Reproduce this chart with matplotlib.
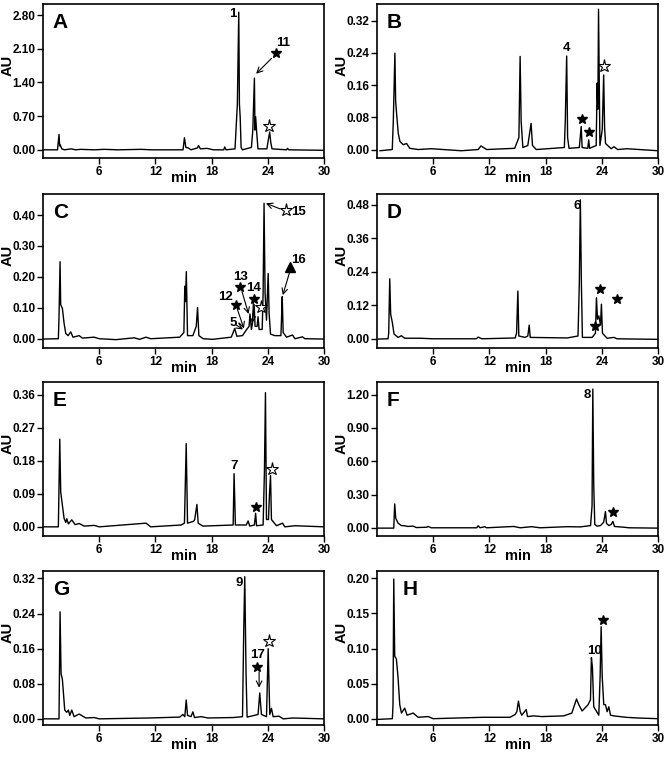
import matplotlib

matplotlib.use("Agg")
import matplotlib.pyplot as plt

plt.rcParams["font.family"] = ["Liberation Sans", "DejaVu Sans"]

# ---- chromatogram traces (min, AU) ----
a_time = [0.1, 1.55, 1.71, 1.78, 1.85, 2.0, 2.3, 3.0, 3.5, 4.0, 5.5, 6.5, 8.0, 10.5, 11.5, 14.95,
          15.1, 15.25, 15.5, 15.8, 16.5, 16.6, 16.8, 17.5, 18.2, 19.3, 19.4, 19.55, 20.5, 20.75,
          20.9, 20.97, 21.05, 21.15, 21.3, 22.25, 22.4, 22.57, 22.63, 22.7, 22.8, 22.95, 23.9,
          24.05, 24.2, 24.32, 24.45, 26.0, 26.1, 26.25, 30.0]
a_au = [0.0, 0.0, 0.32, 0.08, 0.10, 0.02, 0.0, 0.02, 0.0, 0.01, 0.0, 0.01, 0.0, 0.01, 0.0, 0.0,
        0.25, 0.05, 0.04, 0.0, 0.04, 0.09, 0.02, 0.03, 0.0, 0.0, 0.06, 0.0, 0.02, 0.95,
        2.86, 0.95, 0.69, 0.05, 0.0, 0.05, 0.41, 1.49, 0.41, 0.69, 0.40, 0.02, 0.02,
        0.20, 0.37, 0.15, 0.02, 0.0, 0.03, 0.0, -0.01]

b_time = [0.32, 1.63, 1.74, 1.91, 1.99, 2.09, 2.27, 2.45, 2.8, 3.16, 3.5, 4.4, 5.8, 9.0, 10.8, 11.1,
          11.7, 14.7, 15.15, 15.28, 15.39, 15.57, 16.1, 16.45, 16.6, 17.0, 20.0, 20.1, 20.25, 20.35,
          20.5, 21.6, 21.8, 21.9, 22.5, 22.6, 22.7, 23.4, 23.5, 23.58, 23.65, 23.8, 24.05, 24.2,
          24.3, 24.4, 25.0, 25.3, 25.7, 26.7, 30.0]
b_au = [-0.003, 0.0, 0.07, 0.239, 0.12, 0.09, 0.04, 0.02, 0.012, 0.015, 0.003, 0.0, 0.002, -0.003,
        0.0, 0.009, 0.0, 0.003, 0.03, 0.231, 0.07, 0.005, 0.01, 0.065, 0.01, 0.0, 0.005, 0.07,
        0.232, 0.03, 0.003, 0.005, 0.057, 0.005, 0.003, 0.024, 0.003, 0.01, 0.165, 0.10, 0.348,
        0.01, 0.05, 0.185, 0.053, 0.015, 0.002, 0.007, 0.0, 0.002, -0.003]

c_time = [0.1, 1.64, 1.71, 1.82, 1.89, 2.07, 2.25, 2.43, 2.68, 2.96, 3.2, 3.86, 4.2, 5.46, 6.0, 7.8,
          9.75, 10.3, 11.0, 11.5, 14.6, 15.04, 15.14, 15.21, 15.3, 15.43, 16.0, 16.36, 16.5, 16.64,
          17.1, 18.1, 20.1, 20.3, 20.46, 20.7, 21.3, 21.7, 22.0, 22.1, 22.25, 22.36, 22.54, 22.64,
          22.86, 22.96, 23.07, 23.4, 23.5, 23.6, 23.71, 23.86, 24.04, 24.14, 24.29, 24.75, 25.4,
          25.46, 25.54, 25.64, 26.0, 26.64, 26.9, 27.7, 27.96, 30.0]
c_au = [-0.001, 0.0, 0.071, 0.249, 0.11, 0.098, 0.05, 0.017, 0.01, 0.022, 0.005, 0.01, 0.002, 0.005,
        0.0, -0.003, 0.003, -0.002, 0.005, 0.0, 0.005, 0.02, 0.17, 0.12, 0.217, 0.01, 0.01, 0.04,
        0.101, 0.01, 0.0, -0.002, 0.005, 0.02, 0.033, 0.008, 0.01, 0.028, 0.04, 0.08, 0.03, 0.05,
        0.111, 0.04, 0.04, 0.071, 0.03, 0.03, 0.147, 0.438, 0.147, 0.06, 0.211, 0.082, 0.015, 0.01,
        0.01, 0.06, 0.136, 0.02, 0.005, 0.012, 0.0, 0.006, 0.0, -0.001]

d_time = [0.1, 1.18, 1.25, 1.36, 1.46, 1.64, 1.82, 2.25, 2.6, 2.96, 4.6, 6.0, 10.6, 10.8, 11.2, 14.75,
          14.9, 15.04, 15.14, 15.8, 16.1, 16.25, 16.36, 20.3, 21.46, 21.6, 21.71, 21.82, 21.93, 22.96,
          23.14, 23.32, 23.43, 23.54, 23.68, 23.86, 23.96, 24.07, 24.4, 24.57, 25.3, 25.6, 30.0]
d_au = [-0.001, 0.0, 0.02, 0.215, 0.088, 0.058, 0.017, 0.005, 0.011, 0.002, 0.002, 0.0, 0.0, 0.006,
        0.0, 0.003, 0.02, 0.171, 0.01, 0.005, 0.01, 0.049, 0.005, 0.003, 0.01, 0.2, 0.498, 0.2, 0.005,
        0.005, 0.012, 0.02, 0.147, 0.07, 0.082, 0.05, 0.124, 0.02, 0.008, 0.002, 0.005, 0.0, -0.002]

e_time = [0.1, 1.64, 1.79, 1.89, 2.07, 2.25, 2.43, 2.54, 2.71, 3.07, 3.43, 3.86, 4.4, 5.46, 6.0, 11.0,
          11.5, 14.75, 15.1, 15.29, 15.43, 16.07, 16.2, 16.43, 16.57, 17.07, 20.3, 20.4, 20.54, 21.7,
          21.9, 22.07, 22.57, 22.7, 22.8, 23.5, 23.64, 23.75, 23.86, 24.07, 24.18, 24.29, 24.39, 24.64,
          24.93, 25.57, 25.82, 26.9, 30.0]
e_au = [0.0, 0.0, 0.239, 0.095, 0.059, 0.023, 0.012, 0.022, 0.008, 0.019, 0.006, 0.009, 0.002, 0.004,
        0.0, 0.01, 0.0, 0.005, 0.01, 0.227, 0.01, 0.015, 0.02, 0.061, 0.01, 0.002, 0.005, 0.145, 0.005,
        0.005, 0.016, 0.002, 0.005, 0.037, 0.003, 0.005, 0.15, 0.366, 0.02, 0.02, 0.09, 0.14, 0.02,
        0.012, 0.003, 0.01, 0.0, 0.003, 0.0]

f_time = [0.1, 1.79, 1.89, 2.0, 2.25, 2.6, 2.96, 3.3, 3.86, 4.2, 5.3, 5.46, 5.8, 10.64, 10.8, 11.0,
          11.5, 11.7, 14.6, 15.3, 16.5, 17.4, 20.3, 21.7, 22.8, 22.96, 23.04, 23.14, 23.25, 23.5, 23.86,
          24.2, 24.39, 24.5, 24.75, 25.0, 25.18, 25.36, 26.36, 26.9, 30.0]
f_au = [-0.003, -0.003, 0.215, 0.087, 0.042, 0.02, 0.018, 0.012, 0.015, 0.002, 0.005, 0.012, 0.0,
        0.0, 0.018, 0.0, 0.01, 0.0, 0.012, 0.0, 0.01, 0.0, 0.01, 0.008, 0.02, 0.2, 1.25, 0.385, 0.03,
        0.015, 0.02, 0.05, 0.146, 0.04, 0.02, 0.03, 0.057, 0.012, 0.005, 0.0, -0.003]

g_time = [0.1, 1.71, 1.82, 1.93, 2.07, 2.32, 2.54, 2.71, 2.86, 3.07, 3.32, 3.86, 4.57, 5.46, 6.0, 11.36,
          14.6, 14.93, 15.14, 15.29, 15.43, 15.8, 16.0, 16.18, 16.9, 17.6, 20.3, 21.3, 21.43, 21.54,
          21.68, 21.79, 22.96, 23.14, 23.32, 23.86, 24.04, 24.21, 24.39, 24.57, 25.2, 25.64, 26.7, 30.0]
g_au = [0.0, 0.0, 0.244, 0.103, 0.09, 0.02, 0.015, 0.02, 0.008, 0.02, 0.005, 0.011, 0.002, 0.003, 0.0,
        0.002, 0.004, 0.01, 0.005, 0.043, 0.008, 0.005, 0.016, 0.003, 0.005, 0.002, 0.003, 0.005, 0.2,
        0.324, 0.1, 0.004, 0.01, 0.059, 0.01, 0.005, 0.16, 0.01, 0.024, 0.005, 0.006, 0.0, 0.002, 0.0]

h_time = [0.1, 1.64, 1.71, 1.79, 1.89, 2.07, 2.25, 2.43, 2.61, 2.96, 3.21, 3.86, 4.39, 5.46, 6.0, 11.36,
          14.2, 14.75, 14.93, 15.1, 15.29, 15.46, 15.93, 16.07, 16.7, 17.6, 19.93, 20.8, 21.3, 21.54,
          21.9, 22.54, 22.79, 22.89, 23.0, 23.14, 23.68, 23.82, 23.93, 24.04, 24.21, 24.39, 24.57,
          24.75, 24.93, 25.29, 26.54, 27.79, 30.0]
h_au = [-0.001, 0.0, 0.02, 0.199, 0.089, 0.085, 0.058, 0.02, 0.008, 0.015, 0.005, 0.008, 0.002, 0.003,
        0.0, 0.002, 0.002, 0.006, 0.01, 0.025, 0.01, 0.005, 0.013, 0.003, 0.004, 0.003, 0.004, 0.008,
        0.028, 0.02, 0.011, 0.02, 0.027, 0.087, 0.073, 0.017, 0.005, 0.06, 0.131, 0.061, 0.02, 0.02,
        0.01, 0.017, 0.005, 0.004, 0.002, 0.001, 0.0]

# ---- axis settings ----
panel_letters = ["A", "B", "C", "D", "E", "F", "G", "H"]
letter_x = [0.035, 0.035, 0.035, 0.035, 0.035, 0.035, 0.035, 0.09]
yticks_list = [
    [0.0, 0.70, 1.40, 2.10, 2.80],
    [0.0, 0.08, 0.16, 0.24, 0.32],
    [0.0, 0.10, 0.20, 0.30, 0.40],
    [0.0, 0.12, 0.24, 0.36, 0.48],
    [0.0, 0.09, 0.18, 0.27, 0.36],
    [0.0, 0.30, 0.60, 0.90, 1.20],
    [0.0, 0.08, 0.16, 0.24, 0.32],
    [0.0, 0.05, 0.10, 0.15, 0.20],
]
ylims = [(-0.17, 3.03), (-0.021, 0.361), (-0.030, 0.468), (-0.033, 0.519),
         (-0.025, 0.395), (-0.074, 1.314), (-0.014, 0.337), (-0.009, 0.2105)]
xticks = [6, 12, 18, 24, 30]

# ---- peak annotations ----
labels = [
    [("1", 20.29, 2.83), ("11", 25.64, 2.23)],
    [("4", 20.25, 0.253)],
    [("15", 27.25, 0.41), ("16", 27.25, 0.254), ("13", 21.1, 0.198), ("14", 22.45, 0.163),
     ("12", 19.5, 0.136), ("5", 20.29, 0.05)],
    [("6", 21.36, 0.476)],
    [("7", 20.4, 0.165)],
    [("8", 22.5, 1.20)],
    [("9", 20.9, 0.309), ("17", 22.96, 0.145)],
    [("10", 23.2, 0.097)],
]
filled_stars = [
    [(24.86, 2.01)],
    [(21.85, 0.076), (22.6, 0.043)],
    [(21.07, 0.168), (22.5, 0.129), (20.57, 0.109)],
    [(23.86, 0.177), (25.57, 0.141), (23.3, 0.046)],
    [(22.7, 0.055)],
    [(25.2, 0.146)],
    [(22.9, 0.119)],
    [(24.1, 0.141)],
]
open_stars = [
    [(24.14, 0.49)],
    [(24.25, 0.206)],
    [(25.9, 0.416), (23.25, 0.104)],
    [],
    [(24.4, 0.158)],
    [],
    [(24.14, 0.178)],
    [],
]
triangles = [[], [], [(26.4, 0.233)], [], [], [], [], []]
arrows = [
    [(24.4, 1.90, 22.75, 1.58)],
    [],
    [(25.3, 0.42, 23.8, 0.438), (26.3, 0.212, 25.6, 0.141), (21.25, 0.152, 21.95, 0.08),
     (20.75, 0.095, 21.45, 0.033), (22.45, 0.115, 22.35, 0.05), (20.6, 0.045, 21.35, 0.03)],
    [],
    [],
    [],
    [(23.07, 0.107, 23.07, 0.071)],
    [],
]

traces = [(a_time, a_au), (b_time, b_au), (c_time, c_au), (d_time, d_au),
          (e_time, e_au), (f_time, f_au), (g_time, g_au), (h_time, h_au)]

fig = plt.figure(figsize=(6.66, 7.60), dpi=100)
W, H = 666, 760
col_left = [43, 377]
row_top = [4, 194, 382, 571]
ax_w, ax_h = 281, 154

for i, (t, au) in enumerate(traces):
    row, col = divmod(i, 2)
    x0 = col_left[col]
    y0 = row_top[row]
    ax = fig.add_axes([x0 / W, (H - y0 - ax_h) / H, ax_w / W, ax_h / H])
    ax.plot(t, au, color="black", lw=1.0)

    ax.set_xlim(0, 30)
    ax.set_ylim(*ylims[i])
    ax.set_xticks(xticks)
    ax.set_yticks(yticks_list[i])
    ax.set_yticklabels([f"{v:.2f}" for v in yticks_list[i]])
    ax.tick_params(direction="out", length=4, width=1, labelsize=8.5, pad=1.5)
    for lab in ax.get_xticklabels() + ax.get_yticklabels():
        lab.set_fontweight("bold")
    for sp in ax.spines.values():
        sp.set_linewidth(1.2)

    ax.set_xlabel("min", fontsize=10.5, fontweight="bold")
    ax.xaxis.set_label_coords(0.5, -0.085)
    ax.set_ylabel("AU", fontsize=10.5, fontweight="bold")
    ax.yaxis.set_label_coords(-0.1, 0.6)

    ax.text(letter_x[i], 0.94, panel_letters[i], transform=ax.transAxes, fontsize=15,
            fontweight="bold", ha="left", va="top")

    for s, x, y in labels[i]:
        ax.text(x, y, s, fontsize=9.5, fontweight="bold", ha="center", va="center")
    for x, y in filled_stars[i]:
        ax.plot(x, y, marker="*", ms=7.5, color="black", ls="none")
    for x, y in open_stars[i]:
        ax.plot(x, y, marker="*", ms=9.5, mfc="white", mec="black", mew=0.8, ls="none")
    for x, y in triangles[i]:
        ax.plot(x, y, marker="^", ms=7, color="black", ls="none")
    for x1, y1, x2, y2 in arrows[i]:
        ax.annotate("", xy=(x2, y2), xytext=(x1, y1),
                    arrowprops=dict(arrowstyle="->", lw=0.8, color="black",
                                    shrinkA=0, shrinkB=0))

fig.savefig("out.png", dpi=100)
